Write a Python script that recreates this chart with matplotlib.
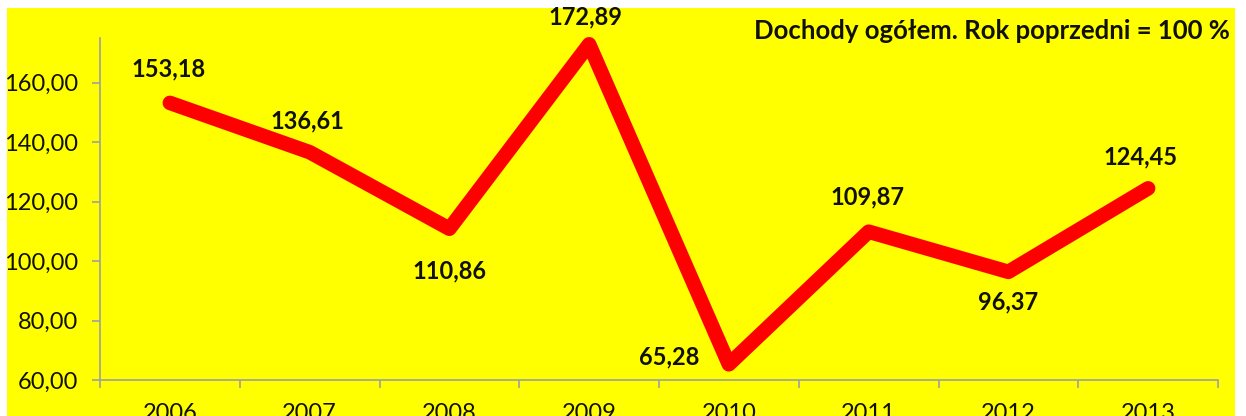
import matplotlib
matplotlib.use("Agg")
import matplotlib.pyplot as plt
from matplotlib.patches import Rectangle
from matplotlib.ticker import FixedLocator, FuncFormatter

years = ["2006", "2007", "2008", "2009", "2010", "2011", "2012", "2013"]
values = [153.18, 136.61, 110.86, 172.89, 65.28, 109.87, 96.37, 124.45]
yticks = [60, 80, 100, 120, 140, 160]
title = "Dochody ogółem. Rok poprzedni = 100 %"

# label offsets from each point (pixels: dx right, dy up)
label_dx = [-1, -2, 0, -4, -60, -1, 0, -8]
label_dy = [34, 31, -42, 27, 7, 35, -30, 31]

W, H = 1246, 416
fig = plt.figure(figsize=(W / 100, H / 100), dpi=100, facecolor="white")
FONT = "Lato"
FS = 17
PX = 72 / 100  # pixels -> points

fig.patches.append(Rectangle((7 / W, 0), (1235 - 7) / W, (H - 8) / H,
                             transform=fig.transFigure, facecolor="#FFFF00",
                             edgecolor="none", zorder=-5))

left, right, ybot, ytop = 100, 1218, 380, 38
ax = fig.add_axes([left / W, (H - ybot) / H, (right - left) / W, (ybot - ytop) / H])
ax.set_facecolor("none")
ax.set_zorder(2)

x = list(range(len(years)))
ax.plot(x, values, color="#FF0000", linewidth=10.5, solid_joinstyle="round",
        solid_capstyle="round", zorder=3, clip_on=False)

ax.set_xlim(-0.5, len(years) - 0.5)
ax.set_ylim(60, 175)

for s in ["top", "right"]:
    ax.spines[s].set_visible(False)
for s in ["left", "bottom"]:
    ax.spines[s].set_color("#A0A0A0")
    ax.spines[s].set_linewidth(1.2)

ax.yaxis.set_major_locator(FixedLocator(yticks))
ax.yaxis.set_major_formatter(FuncFormatter(lambda v, p: f"{v:.2f}".replace(".", ",")))
ax.tick_params(axis="y", length=5.5, width=1.2, color="#A0A0A0", pad=10,
               labelsize=FS, labelcolor="#111100")

ax.set_xticks(x)
ax.set_xticklabels(years)
ax.set_xticks([i - 0.5 for i in range(len(years) + 1)], minor=True)
ax.tick_params(axis="x", which="major", length=0, pad=16.5, labelsize=FS,
               labelcolor="#111100")
ax.tick_params(axis="x", which="minor", length=5.5, width=1.2, color="#A0A0A0")

for lab in ax.get_xticklabels() + ax.get_yticklabels():
    lab.set_fontfamily(FONT)

for xi, v, dx, dy in zip(x, values, label_dx, label_dy):
    ax.annotate(f"{v:.2f}".replace(".", ","), (xi, v), xytext=(dx * PX, dy * PX),
                textcoords="offset points", ha="center", va="center",
                fontsize=FS, fontweight="bold", fontfamily=FONT,
                color="#111100", zorder=4, annotation_clip=False)

fig.text(1230 / W, (H - 31) / H, title, ha="right", va="center",
         fontsize=18.5, fontweight="bold", fontfamily=FONT, color="#111100")

fig.savefig("out.png", dpi=100, facecolor="white")
